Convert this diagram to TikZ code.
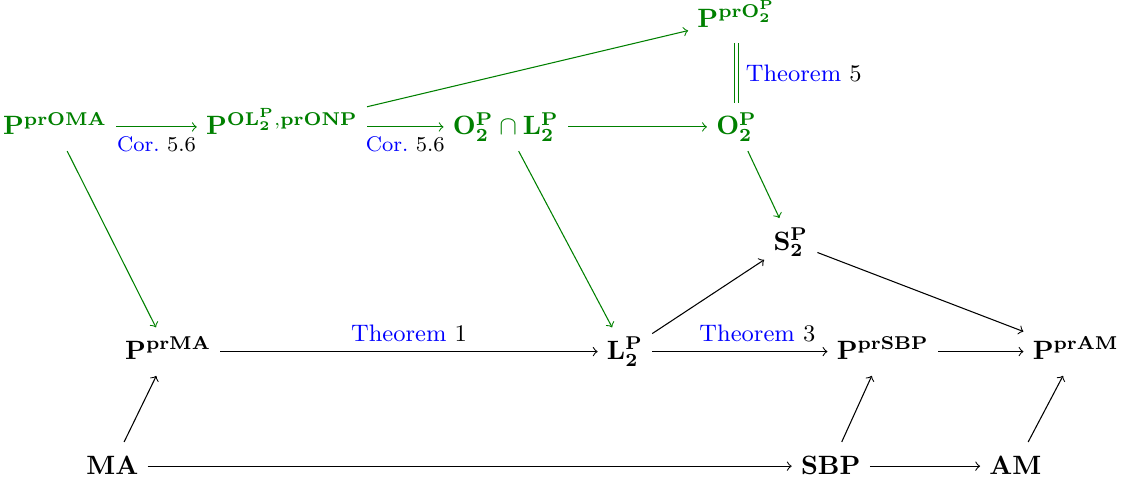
\documentclass[tikz,border=0pt]{standalone}
\usepackage{amsmath,amssymb}
\usetikzlibrary{arrows}
\newcommand{\PP}{\mathbf{P}}
\newcommand{\Ltwo}{\mathbf{L}_{\mathbf{2}}^{\mathbf{P}}}
\newcommand{\Otwo}{\mathbf{O}_{\mathbf{2}}^{\mathbf{P}}}
\newcommand{\Stwo}{\mathbf{S}_{\mathbf{2}}^{\mathbf{P}}}
\newcommand{\thmlbl}[1]{\textcolor{blue}{Theorem}~#1}
\newcommand{\corlbl}[1]{\textcolor{blue}{Cor.}~#1}

\begin{document}
\begin{tikzpicture}[obj/.style={anchor=base, text height=2ex, text depth=.6ex},
    grn/.style={green!50!black}, lbl/.style={text=black, font=\small},
    cor/.style={text=black, font=\footnotesize}]
  \useasboundingbox (0,0) rectangle (14.95,-6.45);

  % green part
  \node[obj,grn] (prO)   at (9.77,-0.36) {$\PP^{\mathbf{pr}\Otwo}$};
  \node[obj,grn] (prOMA) at (0.73,-1.79) {$\PP^{\mathbf{prOMA}}$};
  \node[obj,grn] (pOL)   at (3.74,-1.79) {$\PP^{\mathbf{O}\Ltwo,\mathbf{prONP}}$};
  \node[obj,grn] (OL)    at (6.71,-1.79) {$\Otwo\cap\Ltwo$};
  \node[obj,grn] (O2)    at (9.77,-1.79) {$\Otwo$};

  % black part
  \node[obj] (S2)    at (10.49,-3.32) {$\Stwo$};
  \node[obj] (prMA)  at (2.23,-4.77)  {$\PP^{\mathbf{prMA}}$};
  \node[obj] (L2)    at (8.29,-4.77)  {$\Ltwo$};
  \node[obj] (prSBP) at (11.71,-4.77) {$\PP^{\mathbf{prSBP}}$};
  \node[obj] (prAM)  at (14.27,-4.77) {$\PP^{\mathbf{prAM}}$};
  \node[obj] (MA)    at (1.49,-6.29)  {$\mathbf{MA}$};
  \node[obj] (SBP)   at (11.02,-6.29) {$\mathbf{SBP}$};
  \node[obj] (AM)    at (13.47,-6.29) {$\mathbf{AM}$};

  \draw[grn,->] (prOMA) -- node[below,cor] {\corlbl{5.6}} (pOL);
  \draw[grn,->] (pOL) -- node[below,cor] {\corlbl{5.6}} (OL);
  \draw[grn,->] (pOL) -- (prO);
  \draw[grn,double,double distance=1pt] (prO) -- node[right,lbl] {\thmlbl{5}} (O2);
  \draw[grn,->] (OL) -- (O2);
  \draw[grn,->] (O2) -- (S2);
  \draw[grn,->] (OL) -- (L2);
  \draw[grn,->] (prOMA) -- (prMA);

  \draw[->] (prMA) -- node[above,lbl] {\thmlbl{1}} (L2);
  \draw[->] (L2) -- (S2);
  \draw[->] (L2) -- node[above,lbl,pos=.6] {\thmlbl{3}} (prSBP);
  \draw[->] (S2) -- (prAM);
  \draw[->] (prSBP) -- (prAM);
  \draw[->] (MA) -- (prMA);
  \draw[->] (MA) -- (SBP);
  \draw[->] (SBP) -- (prSBP);
  \draw[->] (SBP) -- (AM);
  \draw[->] (AM) -- (prAM);
\end{tikzpicture}
\end{document}
